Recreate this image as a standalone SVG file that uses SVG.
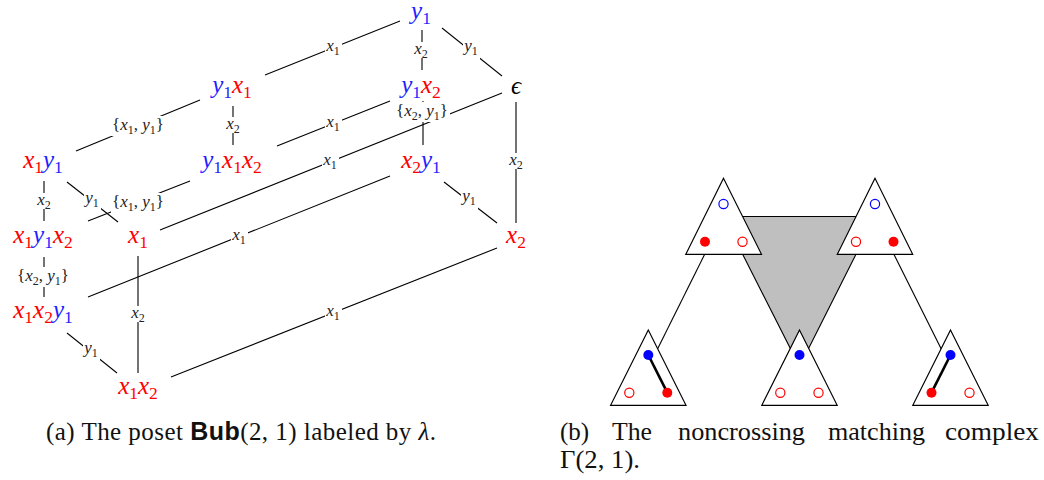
<svg xmlns="http://www.w3.org/2000/svg" width="1044" height="480" viewBox="0 0 1044 480">
<style>
.n{font-family:"Liberation Serif","DejaVu Serif",serif;font-size:25px;text-anchor:middle}
.l{font-family:"Liberation Serif","DejaVu Serif",serif;font-size:17px;text-anchor:middle;fill:#222}
.v{font-style:italic}
.n .s{font-size:17.5px}
.l .s{font-size:12px}
.r{fill:#ff0000}
.b{fill:#1f1fff}
.k{fill:#000}
#connectors line{stroke:#000;stroke-width:1.1;fill:none}
.bg{fill:#fff}
.tri{fill:#fff;stroke:#000;stroke-width:1.2}
.ro{fill:#fff;stroke:#ff0000;stroke-width:1.2}
.bo{fill:#fff;stroke:#0000ff;stroke-width:1.2}
.rf{fill:#ff0000}
.bf{fill:#0000ff}
.m{stroke:#000;stroke-width:2.6}
.cap{font-family:"Liberation Serif","DejaVu Serif",serif;font-size:25px;fill:#111}
</style>

<g id="connectors">
<line x1="400" y1="21" x2="265" y2="75"/>
<line x1="422" y1="30" x2="422" y2="70"/>
<line x1="442" y1="28" x2="502" y2="76"/>
<line x1="200" y1="100" x2="76" y2="151"/>
<line x1="233" y1="106" x2="233" y2="145"/>
<line x1="390" y1="101" x2="277" y2="146"/>
<line x1="423" y1="101" x2="423" y2="145"/>
<line x1="502" y1="93" x2="160" y2="230"/>
<line x1="516" y1="102" x2="516" y2="223"/>
<line x1="44" y1="181" x2="44" y2="221"/>
<line x1="67" y1="182" x2="118" y2="222"/>
<line x1="190" y1="181" x2="88" y2="221"/>
<line x1="88" y1="297" x2="390" y2="176"/>
<line x1="444" y1="182" x2="497" y2="223"/>
<line x1="44" y1="257" x2="44" y2="297"/>
<line x1="138" y1="256" x2="138" y2="373"/>
<line x1="67" y1="333" x2="117" y2="373"/>
<line x1="497" y1="248" x2="171" y2="377"/>
</g>

<g id="edge-labels">
<rect class="bg" x="325" y="39" width="17" height="16"/>
<text class="l" x="333" y="51"><tspan class="v">x</tspan><tspan class="s" dy="3.5">1</tspan></text>
<rect class="bg" x="413" y="42" width="17" height="16"/>
<text class="l" x="421" y="54"><tspan class="v">x</tspan><tspan class="s" dy="3.5">2</tspan></text>
<rect class="bg" x="463" y="42" width="17" height="17"/>
<text class="l" x="471" y="51"><tspan class="v">y</tspan><tspan class="s" dy="3.5">1</tspan></text>
<rect class="bg" x="111" y="116" width="55" height="20"/>
<text class="l" x="138" y="130">{<tspan class="v">x</tspan><tspan class="s" dy="3.5">1</tspan><tspan dy="-3.5">, </tspan><tspan class="v">y</tspan><tspan class="s" dy="3.5">1</tspan><tspan dy="-3.5">}</tspan></text>
<rect class="bg" x="225" y="117" width="17" height="16"/>
<text class="l" x="233" y="129"><tspan class="v">x</tspan><tspan class="s" dy="3.5">2</tspan></text>
<rect class="bg" x="325" y="115" width="17" height="16"/>
<text class="l" x="333" y="127"><tspan class="v">x</tspan><tspan class="s" dy="3.5">1</tspan></text>
<rect class="bg" x="395" y="102" width="55" height="20"/>
<text class="l" x="422" y="116">{<tspan class="v">x</tspan><tspan class="s" dy="3.5">2</tspan><tspan dy="-3.5">, </tspan><tspan class="v">y</tspan><tspan class="s" dy="3.5">1</tspan><tspan dy="-3.5">}</tspan></text>
<rect class="bg" x="322" y="153" width="17" height="16"/>
<text class="l" x="330" y="165"><tspan class="v">x</tspan><tspan class="s" dy="3.5">1</tspan></text>
<rect class="bg" x="508" y="153" width="17" height="16"/>
<text class="l" x="516" y="165"><tspan class="v">x</tspan><tspan class="s" dy="3.5">2</tspan></text>
<rect class="bg" x="36" y="193" width="17" height="16"/>
<text class="l" x="44" y="205"><tspan class="v">x</tspan><tspan class="s" dy="3.5">2</tspan></text>
<rect class="bg" x="84" y="193" width="17" height="17"/>
<text class="l" x="92" y="203"><tspan class="v">y</tspan><tspan class="s" dy="3.5">1</tspan></text>
<rect class="bg" x="111" y="193" width="55" height="20"/>
<text class="l" x="138" y="207">{<tspan class="v">x</tspan><tspan class="s" dy="3.5">1</tspan><tspan dy="-3.5">, </tspan><tspan class="v">y</tspan><tspan class="s" dy="3.5">1</tspan><tspan dy="-3.5">}</tspan></text>
<rect class="bg" x="231" y="228" width="17" height="16"/>
<text class="l" x="239" y="240"><tspan class="v">x</tspan><tspan class="s" dy="3.5">1</tspan></text>
<rect class="bg" x="461" y="192" width="17" height="17"/>
<text class="l" x="469" y="201"><tspan class="v">y</tspan><tspan class="s" dy="3.5">1</tspan></text>
<rect class="bg" x="16" y="267" width="55" height="20"/>
<text class="l" x="43" y="281">{<tspan class="v">x</tspan><tspan class="s" dy="3.5">2</tspan><tspan dy="-3.5">, </tspan><tspan class="v">y</tspan><tspan class="s" dy="3.5">1</tspan><tspan dy="-3.5">}</tspan></text>
<rect class="bg" x="130" y="306" width="17" height="16"/>
<text class="l" x="138" y="318"><tspan class="v">x</tspan><tspan class="s" dy="3.5">2</tspan></text>
<rect class="bg" x="83" y="344" width="17" height="17"/>
<text class="l" x="91" y="353"><tspan class="v">y</tspan><tspan class="s" dy="3.5">1</tspan></text>
<rect class="bg" x="325" y="304" width="17" height="16"/>
<text class="l" x="333" y="316"><tspan class="v">x</tspan><tspan class="s" dy="3.5">1</tspan></text>
</g>

<g id="node-y1"><text class="n" x="421" y="19"><tspan class="v b">y</tspan><tspan class="s b" dy="5">1</tspan></text></g>
<g id="node-y1x1"><text class="n" x="232" y="93"><tspan class="v b">y</tspan><tspan class="s b" dy="5">1</tspan><tspan class="v r" dy="-5">x</tspan><tspan class="s r" dy="5">1</tspan></text></g>
<g id="node-y1x2"><text class="n" x="421" y="93"><tspan class="v b">y</tspan><tspan class="s b" dy="5">1</tspan><tspan class="v r" dy="-5">x</tspan><tspan class="s r" dy="5">2</tspan></text></g>
<g id="node-eps"><text class="n v k" x="516" y="94">ϵ</text></g>
<g id="node-x1y1"><text class="n" x="43" y="168"><tspan class="v r">x</tspan><tspan class="s r" dy="5">1</tspan><tspan class="v b" dy="-5">y</tspan><tspan class="s b" dy="5">1</tspan></text></g>
<g id="node-y1x1x2"><text class="n" x="232" y="168"><tspan class="v b">y</tspan><tspan class="s b" dy="5">1</tspan><tspan class="v r" dy="-5">x</tspan><tspan class="s r" dy="5">1</tspan><tspan class="v r" dy="-5">x</tspan><tspan class="s r" dy="5">2</tspan></text></g>
<g id="node-x2y1"><text class="n" x="421" y="168"><tspan class="v r">x</tspan><tspan class="s r" dy="5">2</tspan><tspan class="v b" dy="-5">y</tspan><tspan class="s b" dy="5">1</tspan></text></g>
<g id="node-x1y1x2"><text class="n" x="43" y="243"><tspan class="v r">x</tspan><tspan class="s r" dy="5">1</tspan><tspan class="v b" dy="-5">y</tspan><tspan class="s b" dy="5">1</tspan><tspan class="v r" dy="-5">x</tspan><tspan class="s r" dy="5">2</tspan></text></g>
<g id="node-x1"><text class="n" x="138" y="243"><tspan class="v r">x</tspan><tspan class="s r" dy="5">1</tspan></text></g>
<g id="node-x2"><text class="n" x="516" y="243"><tspan class="v r">x</tspan><tspan class="s r" dy="5">2</tspan></text></g>
<g id="node-x1x2y1"><text class="n" x="43" y="318"><tspan class="v r">x</tspan><tspan class="s r" dy="5">1</tspan><tspan class="v r" dy="-5">x</tspan><tspan class="s r" dy="5">2</tspan><tspan class="v b" dy="-5">y</tspan><tspan class="s b" dy="5">1</tspan></text></g>
<g id="node-x1x2"><text class="n" x="138" y="394"><tspan class="v r">x</tspan><tspan class="s r" dy="5">1</tspan><tspan class="v r" dy="-5">x</tspan><tspan class="s r" dy="5">2</tspan></text></g>

<g id="complex-connectors">
<polygon points="723.5,216.5 875,216.5 799.5,366.5" fill="#bfbfbf" stroke="#000" stroke-width="1.1"/>
<line x1="723.5" y1="216.5" x2="648.3" y2="367.5" stroke="#000" stroke-width="1.1"/>
<line x1="875" y1="216.5" x2="950.5" y2="367.5" stroke="#000" stroke-width="1.1"/>
</g>
<g id="tri-TL">
<polygon class="tri" points="723.5,178.3 685.8,254.3 761.5,254.3"/>
<circle class="bo" cx="723.5" cy="204" r="4.6"/>
<circle class="rf" cx="705" cy="241.7" r="5"/>
<circle class="ro" cx="742.5" cy="241.7" r="4.6"/>
</g>
<g id="tri-TR">
<polygon class="tri" points="875,178.3 837.3,254.3 912.7,254.3"/>
<circle class="bo" cx="875" cy="204" r="4.6"/>
<circle class="ro" cx="856" cy="241.7" r="4.6"/>
<circle class="rf" cx="893.5" cy="241.7" r="5"/>
</g>
<g id="tri-BL">
<polygon class="tri" points="648.3,330 610.6,405.3 686,405.3"/>
<line class="m" x1="648.3" y1="355" x2="667.3" y2="392.7"/>
<circle class="bf" cx="648.3" cy="355" r="5"/>
<circle class="ro" cx="629.3" cy="392.7" r="4.6"/>
<circle class="rf" cx="667.3" cy="392.7" r="5"/>
</g>
<g id="tri-BM">
<polygon class="tri" points="799.5,330 761.8,405.3 837.2,405.3"/>
<circle class="bf" cx="799.5" cy="355" r="5"/>
<circle class="ro" cx="780.3" cy="392.7" r="4.6"/>
<circle class="ro" cx="818.5" cy="392.7" r="4.6"/>
</g>
<g id="tri-BR">
<polygon class="tri" points="950.5,330 912.8,405.3 988.2,405.3"/>
<line class="m" x1="950.5" y1="355" x2="931.5" y2="392.7"/>
<circle class="bf" cx="950.5" cy="355" r="5"/>
<circle class="rf" cx="931.5" cy="392.7" r="5"/>
<circle class="ro" cx="969.5" cy="392.7" r="4.6"/>
</g>

<g id="captions">
<text class="cap" x="46" y="440" textLength="390" lengthAdjust="spacing">(a) The poset <tspan font-family="Liberation Sans, sans-serif" font-weight="bold">Bub</tspan>(2, 1) labeled by <tspan font-style="italic">λ</tspan>.</text>
<text class="cap" x="560" y="440">(b)</text>
<text class="cap" x="612" y="440" textLength="40" lengthAdjust="spacingAndGlyphs">The</text>
<text class="cap" x="678" y="440" textLength="127" lengthAdjust="spacingAndGlyphs">noncrossing</text>
<text class="cap" x="828" y="440" textLength="97" lengthAdjust="spacingAndGlyphs">matching</text>
<text class="cap" x="945" y="440" textLength="94" lengthAdjust="spacingAndGlyphs">complex</text>
<text class="cap" x="560" y="468" textLength="80" lengthAdjust="spacingAndGlyphs">Γ(2, 1).</text>
</g>
</svg>
